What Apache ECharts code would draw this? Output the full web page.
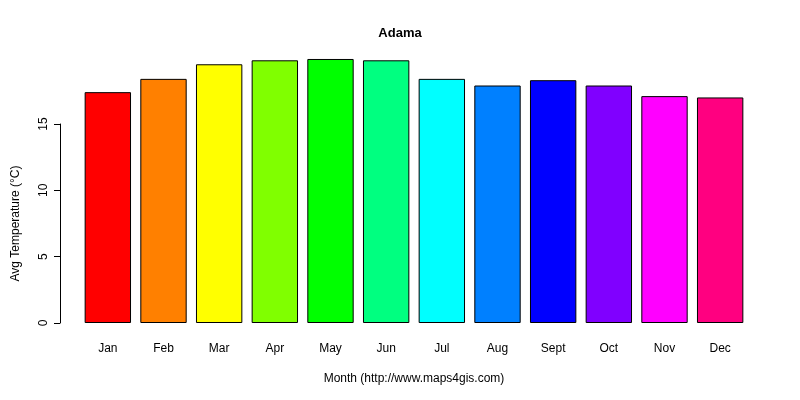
<!DOCTYPE html>
<html><head><meta charset="utf-8">
<script src="https://cdn.jsdelivr.net/npm/echarts@6/dist/echarts.min.js"></script>
<style>body{margin:0}#container{width:800px;height:400px}</style>
</head><body><div id="container"></div>
<script>
var months = ['Jan','Feb','Mar','Apr','May','Jun','Jul','Aug','Sept','Oct','Nov','Dec'];
var temps = [17.4, 18.4, 19.5, 19.8, 19.9, 19.8, 18.4, 17.9, 18.3, 17.9, 17.1, 17.0];
var colors = ['#FF0000','#FF8000','#FFFF00','#80FF00','#00FF00','#00FF80','#00FFFF','#0080FF','#0000FF','#8000FF','#FF00FF','#FF0080'];
var yTicks = [0, 5, 10, 15];

var chart = echarts.init(document.getElementById('container'));
var font = 'Liberation Sans, Arial, sans-serif';
chart.setOption({
    animation: false,
    textStyle: {fontFamily: font},
    title: {text: 'Adama', left: 'center', top: 22,
        textStyle: {fontSize: 13, fontWeight: 'bold', color: '#000', fontFamily: font}},
    grid: [
        {left: 80, right: 52, top: 40, bottom: 77},
        {left: 80, right: 52, top: 124, bottom: 77}
    ],
    xAxis: [{
        type: 'category', data: months, gridIndex: 0,
        axisLine: {show: false}, axisTick: {show: false},
        axisLabel: {color: '#000', fontSize: 12, margin: 20},
        name: 'Month (http://www.maps4gis.com)', nameLocation: 'middle', nameGap: 50,
        nameTextStyle: {color: '#000', fontSize: 12}
    }, {
        type: 'category', data: months, gridIndex: 1, show: false
    }],
    yAxis: [{
        type: 'value', gridIndex: 0, min: 0, max: 21.33, show: false
    }, {
        type: 'value', gridIndex: 1, min: yTicks[0], max: yTicks[yTicks.length - 1], interval: 5,
        offset: 20,
        axisLine: {show: true, lineStyle: {color: '#000'}},
        axisTick: {show: true, length: 6, lineStyle: {color: '#000'}},
        axisLabel: {color: '#000', fontSize: 12, rotate: 90, margin: 10},
        splitLine: {show: false},
        name: 'Avg Temperature (°C)', nameLocation: 'middle', nameGap: 38,
        nameTextStyle: {color: '#000', fontSize: 12}
    }],
    series: [{
        type: 'bar', xAxisIndex: 0, yAxisIndex: 0,
        barCategoryGap: '16.7%',
        data: temps.map(function (v, i) {
            return {value: v, itemStyle: {color: colors[i], borderColor: '#000', borderWidth: 1}};
        })
    }]
});
</script></body></html>
